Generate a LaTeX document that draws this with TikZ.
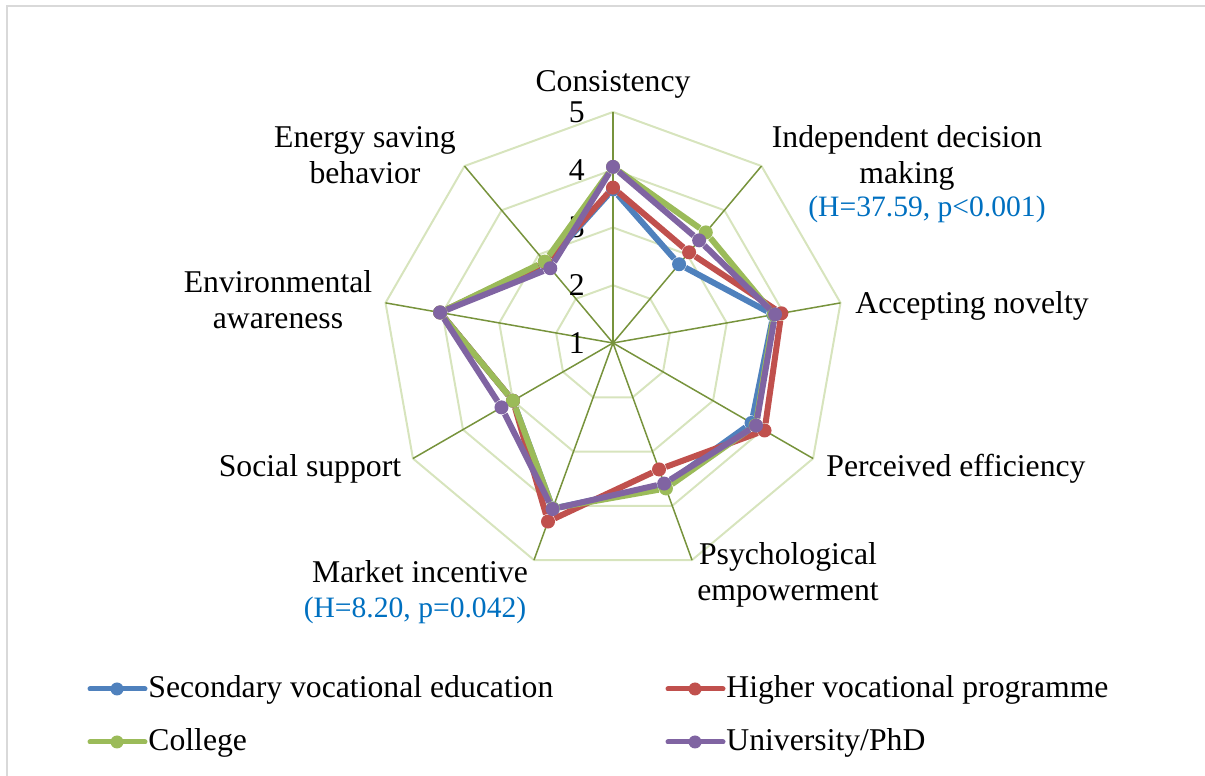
\documentclass[tikz,border=0pt]{standalone}
\usepackage{fontspec}
\setmainfont{Liberation Serif}
\usepackage{tikz}
\usepackage{xcolor}

\definecolor{svblue}{HTML}{4F81BD}
\definecolor{hvred}{HTML}{C0504D}
\definecolor{cogreen}{HTML}{9BBB59}
\definecolor{unipurple}{HTML}{8064A2}
\definecolor{ringgreen}{HTML}{D7E4BD}
\definecolor{spokegreen}{HTML}{77933C}
\definecolor{notecol}{HTML}{0070C0}
\definecolor{framegray}{HTML}{D9D9D9}

\begin{document}
\begin{tikzpicture}[x=0.5pt,y=0.5pt,
		every node/.style={font=\fontsize{15.85pt}{18.3pt}\selectfont,inner sep=0pt},
		lbl/.style={align=center,anchor=base},
		note/.style={text=notecol,anchor=base,font=\fontsize{14.8pt}{17pt}\selectfont},
		dot/.style={circle,fill=#1,minimum size=7pt},
		serie/.style={draw=#1,line width=3pt},
		legline/.style={draw=#1,line width=2.5pt,line cap=round},
		legdot/.style={circle,fill=#1,minimum size=6.5pt}]
			\useasboundingbox (0,0) rectangle (1205,776);
			\draw[framegray,line width=1pt] (7,0) -- (7,770) -- (1205,770);
			\begin{scope}[shift={(613,433)},x=28.875pt,y=28.875pt]
				\coordinate (O) at (0,0);
				\foreach \r in {1,...,4}
					\draw[ringgreen,line width=1pt] (90:\r) \foreach \a in {50,10,...,-230} { -- (\a:\r) } -- cycle;
				\foreach \a [count=\i] in {90,50,...,-230} {
					\coordinate (axis\i) at (\a:4);
					\draw[spokegreen,line width=0.75pt] (O) -- (axis\i);
				}
				\foreach \k in {1,...,5}
					\node[anchor=east,xshift=-14pt] (tick\k) at (0,{\k-1}) {\k};
				% secondary vocational
				\foreach \v [count=\i] in {3.66,2.78,3.82,3.77,3.62,4.05,3.00,4.04,2.80}
					\node[dot=svblue] (sv\i) at ({130-40*\i}:{\v-1}) {};
				\draw[serie=svblue] (sv1) -- (sv2) -- (sv3) -- (sv4) -- (sv5) -- (sv6) -- (sv7) -- (sv8) -- (sv9) -- (sv1);
				% higher vocational
				\foreach \v [count=\i] in {3.69,3.05,3.96,4.03,3.33,4.29,3.00,4.04,2.82}
					\node[dot=hvred] (hv\i) at ({130-40*\i}:{\v-1}) {};
				\draw[serie=hvred] (hv1) -- (hv2) -- (hv3) -- (hv4) -- (hv5) -- (hv6) -- (hv7) -- (hv8) -- (hv9) -- (hv1);
				% college
				\foreach \v [count=\i] in {4.05,3.50,3.83,3.85,3.68,4.05,3.00,4.04,2.84}
					\node[dot=cogreen] (co\i) at ({130-40*\i}:{\v-1}) {};
				\draw[serie=cogreen] (co1) -- (co2) -- (co3) -- (co4) -- (co5) -- (co6) -- (co7) -- (co8) -- (co9) -- (co1);
				% university
				\foreach \v [count=\i] in {4.05,3.32,3.85,3.86,3.59,4.06,3.23,4.04,2.69}
					\node[dot=unipurple] (un\i) at ({130-40*\i}:{\v-1}) {};
				\draw[serie=unipurple] (un1) -- (un2) -- (un3) -- (un4) -- (un5) -- (un6) -- (un7) -- (un8) -- (un9) -- (un1);
			\end{scope}
			% axis labels
			\node[lbl] (cons) at (613,684) {Consistency};
			\node[lbl] (idm) at (907,592) {Independent decision\\making};
			\node[note] (idmnote) at (927,559) {(H=37.59, p<0.001)};
			\node[lbl] (novel) at (972,462) {Accepting novelty};
			\node[lbl] (effic) at (956,299) {Perceived efficiency};
			\node[lbl] (psych) at (788,175) {Psychological\\empowerment};
			\node[lbl] (market) at (420,193) {Market incentive};
			\node[note] (marketnote) at (415,158) {(H=8.20, p=0.042)};
			\node[lbl] (social) at (310,299) {Social support};
			\node[lbl] (envir) at (278,447) {Environmental\\awareness};
			\node[lbl] (energy) at (365,592) {Energy saving\\behavior};
			% legend
			\coordinate (svla) at (90,87);
			\coordinate (svlb) at (145,87);
			\draw[legline=svblue] (svla) -- (svlb);
			\node[legdot=svblue] (svld) at (117,87) {};
			\node[anchor=base west] (svlt) at (148,78) {Secondary vocational education};
			\coordinate (hvla) at (668,87);
			\coordinate (hvlb) at (723,87);
			\draw[legline=hvred] (hvla) -- (hvlb);
			\node[legdot=hvred] (hvld) at (695,87) {};
			\node[anchor=base west] (hvlt) at (726,78) {Higher vocational programme};
			\coordinate (cola) at (90,34);
			\coordinate (colb) at (145,34);
			\draw[legline=cogreen] (cola) -- (colb);
			\node[legdot=cogreen] (cold) at (117,34) {};
			\node[anchor=base west] (colt) at (148,25) {College};
			\coordinate (unla) at (668,34);
			\coordinate (unlb) at (723,34);
			\draw[legline=unipurple] (unla) -- (unlb);
			\node[legdot=unipurple] (unld) at (695,34) {};
			\node[anchor=base west] (unlt) at (726,25) {University/PhD};
		\end{tikzpicture}
\end{document}
